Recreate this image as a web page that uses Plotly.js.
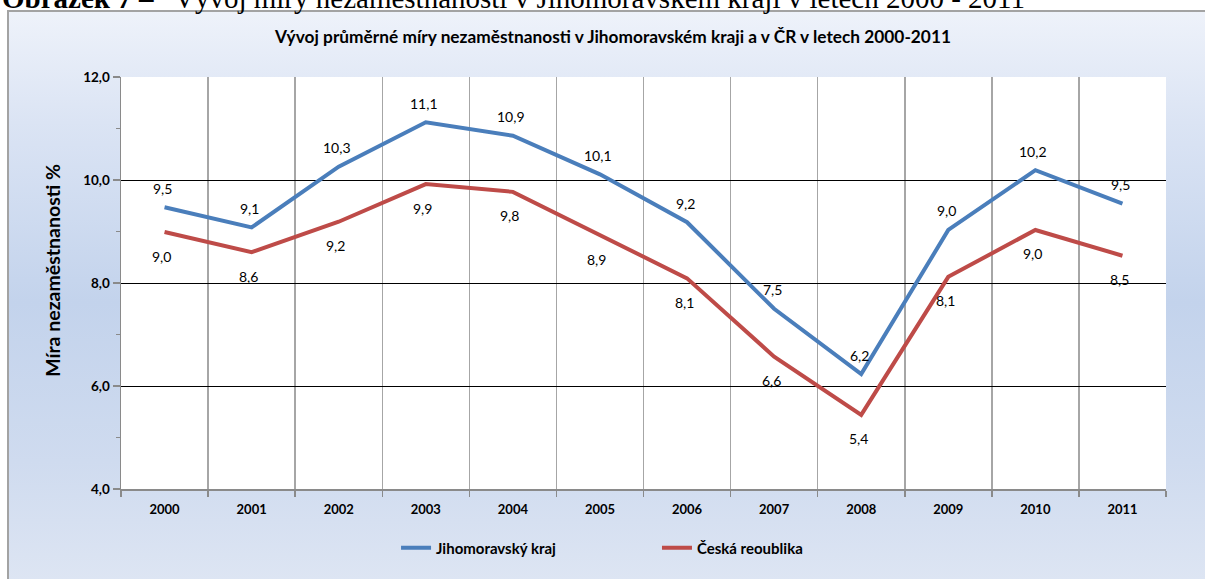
<!DOCTYPE html>
<html><head><meta charset="utf-8">
<script src="https://cdn.plot.ly/plotly-3.0.1.min.js"></script>
<style>
html,body{margin:0;padding:0;background:#fff;overflow:hidden;width:1205px;height:579px;}
#box{position:absolute;left:7px;top:10px;width:1300px;height:700px;border-left:2px solid #a3a3a3;border-top:2px solid #a3a3a3;
background:linear-gradient(180deg,#eef2fa 0px,#dbe4f4 110px,#c3d3ec 290px,#cfdbef 450px,#dde5f3 568px);}
#chart{position:absolute;left:0;top:0;width:1205px;height:579px;}
</style></head><body>
<div id="box"></div><div id="chart"></div>
<script>
// ---- data ----
const years = ['2000','2001','2002','2003','2004','2005','2006','2007','2008','2009','2010','2011'];
const jihomoravskyKraj = [9.47, 9.08, 10.26, 11.12, 10.86, 10.11, 9.18, 7.50, 6.23, 9.03, 10.19, 9.54];
const ceskaRepublika   = [8.99, 8.60, 9.19, 9.92, 9.77, 8.93, 8.09, 6.57, 5.44, 8.12, 9.03, 8.53];
const seriesNames = ['Jihomoravský kraj', 'Česká reoublika'];
const chartTitle = 'Vývoj průměrné míry nezaměstnanosti v Jihomoravském kraji a v ČR v letech 2000-2011';
const yAxisTitle = 'Míra nezaměstnanosti %';
const figureCaptionBold = 'Obrázek 7 –';
const figureCaptionText = 'Vývoj míry nezaměstnanosti v Jihomoravském kraji v letech 2000 - 2011';

// ---- styles ----
const FONT = 'Lato, "Open Sans", sans-serif';
const SERIF = '"Liberation Serif", "Times New Roman", serif';
const BLUE = '#4a7ebb', RED = '#be4b48';
const fmt = v => v.toFixed(1).replace('.', ',');

const traces = [
  {x: years, y: jihomoravskyKraj, name: seriesNames[0], type: 'scatter', mode: 'lines',
   line: {color: BLUE, width: 4}, legend: 'legend', hoverinfo: 'skip'},
  {x: years, y: ceskaRepublika, name: seriesNames[1], type: 'scatter', mode: 'lines',
   line: {color: RED, width: 4}, legend: 'legend2', hoverinfo: 'skip'}
];

const labelFont = {family: FONT, size: 14, color: '#000'};
const annotations = [];
years.forEach((yr, i) => {
  annotations.push({x: i, y: jihomoravskyKraj[i], xref: 'x', yref: 'y', text: fmt(jihomoravskyKraj[i]),
    showarrow: false, yshift: 19, xshift: -2, font: labelFont});
  annotations.push({x: i, y: ceskaRepublika[i], xref: 'x', yref: 'y', text: fmt(ceskaRepublika[i]),
    showarrow: false, yshift: -24, xshift: -3, font: labelFont});
});
annotations.push({xref: 'paper', yref: 'paper', x: -0.0651, y: 0.532, textangle: -90,
  text: yAxisTitle, showarrow: false, xanchor: 'center', yanchor: 'middle',
  font: {family: FONT, size: 19.5, weight: 'bold', color: '#000'}});
annotations.push({xref: 'paper', yref: 'paper', x: -0.1158, y: 1.192, xanchor: 'left', yanchor: 'middle',
  text: '<b>' + figureCaptionBold + '</b>', showarrow: false,
  font: {family: SERIF, size: 29, color: '#000'}});
annotations.push({xref: 'paper', yref: 'paper', x: (172 - 121) / 1045, y: 1.192, xanchor: 'left', yanchor: 'middle',
  text: figureCaptionText, showarrow: false,
  font: {family: SERIF, size: 29, color: '#000'}});

const legendBase = {orientation: 'h', bgcolor: 'rgba(0,0,0,0)', xanchor: 'left', yanchor: 'middle',
  y: -0.143, font: {family: FONT, size: 15, weight: 'bold', color: '#000'}};

const layout = {
  width: 1205, height: 579,
  margin: {l: 121, r: 39, t: 76.5, b: 90},
  paper_bgcolor: 'rgba(0,0,0,0)', plot_bgcolor: '#fff',
  separators: ', ',
  hovermode: false,
  title: {text: chartTitle, xref: 'container', yref: 'container', x: 0.5087, y: 0.936,
    xanchor: 'center', yanchor: 'middle', font: {family: FONT, size: 17.3, weight: 'bold', color: '#000'}},
  xaxis: {type: 'category', tickson: 'boundaries', ticks: 'outside', ticklen: 6, tickcolor: '#8a8a8a', tickwidth: 1.5,
    showgrid: true, gridcolor: '#a6a6a6', gridwidth: 1.5, showline: true, linecolor: '#8a8a8a', linewidth: 1.5,
    range: [-0.5, 11.5], fixedrange: true, ticklabelstandoff: 8,
    tickfont: {family: FONT, size: 13, weight: 'bold', color: '#000'}},
  yaxis: {range: [4, 12], tick0: 4, dtick: 2, tickformat: '.1f', ticks: 'outside', ticklen: 7,
    tickcolor: '#8a8a8a', tickwidth: 1.5, showline: true, linecolor: '#8a8a8a', linewidth: 1.5,
    showgrid: true, gridcolor: '#000', gridwidth: 1, zeroline: false, fixedrange: true,
    minor: {dtick: 1, ticks: 'outside', ticklen: 4, tickcolor: '#8a8a8a', tickwidth: 1.5, showgrid: false},
    tickfont: {family: FONT, size: 13.5, weight: 'bold', color: '#000'}},
  showlegend: true,
  legend: Object.assign({}, legendBase, {x: 0.2632}),
  legend2: Object.assign({}, legendBase, {x: 0.5129}),
  annotations: annotations
};

Plotly.newPlot('chart', traces, layout, {displayModeBar: false, staticPlot: true});
</script>
</body></html>
